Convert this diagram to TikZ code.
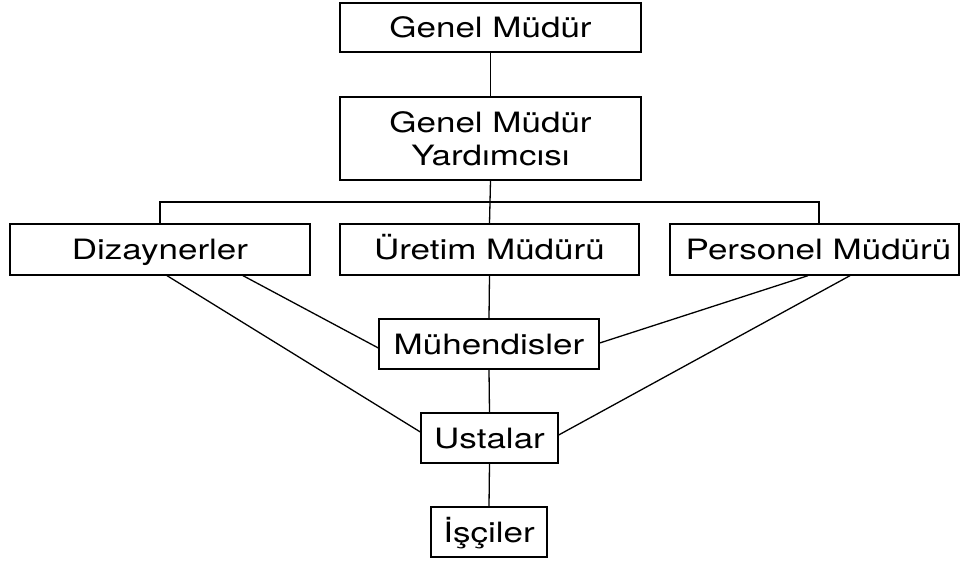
\documentclass[tikz,border=0pt]{standalone}
\usepackage{fontspec}
\setmainfont{TeX Gyre Heros}[FakeStretch=1.25]
\begin{document}
\begin{tikzpicture}[x=1pt,y=-1pt,
  box/.style={draw, line width=1.3pt, inner sep=0pt, align=center,
    font=\fontsize{28}{33}\selectfont, minimum height=50pt},
  one/.style={text height=20pt, text depth=0pt},
  link/.style={line width=1.3pt}]
\useasboundingbox (0,0) rectangle (961,562);
\node[box, one, minimum width=301pt, minimum height=49pt] (gm) at (490.5,27.5) {Genel Müdür};
\node[box, minimum width=301pt, minimum height=83pt] (gmy) at (490.5,138.5) {Genel Müdür\\Yardımcısı};
\node[box, one, minimum width=300pt, minimum height=51pt] (diz) at (160,249.5) {Dizaynerler};
\node[box, one, minimum width=299pt, minimum height=51pt] (ure) at (489.5,249.5) {Üretim Müdürü};
\node[box, one, minimum width=289pt, minimum height=51pt] (per) at (814.5,249.5) {\hspace*{8pt}Personel Müdürü};
\node[box, one, minimum width=220pt] (muh) at (489,344) {Mühendisler};
\node[box, one, minimum width=137pt] (ust) at (489.5,438) {Ustalar};
\node[box, one, minimum width=116pt] (isc) at (489,532) {İşçiler};
\coordinate (busY) at (0,202);
\coordinate (perTop) at ([xshift=4.5pt]per.north);
\draw[link] (gm.south) -- (gmy.north);
\draw[link] (gmy.south) -- (ure.north);
\draw[link] (diz.north) -- (diz.north |- busY) -- (perTop |- busY) -- (perTop);
\draw[link] (ure.south) -- (muh.north);
\draw[link] (muh.south) -- (ust.north);
\draw[link] (ust.south) -- (isc.north);
\draw[link] ([xshift=7pt]diz.south) -- ([yshift=6pt]ust.west);
\draw[link] ([xshift=83pt]diz.south) -- ([yshift=-4pt]muh.west);
\draw[link] ([xshift=-6.5pt]per.south) -- ([yshift=1pt]muh.east);
\draw[link] ([xshift=35.5pt]per.south) -- ([yshift=3pt]ust.east);
\end{tikzpicture}
\end{document}
